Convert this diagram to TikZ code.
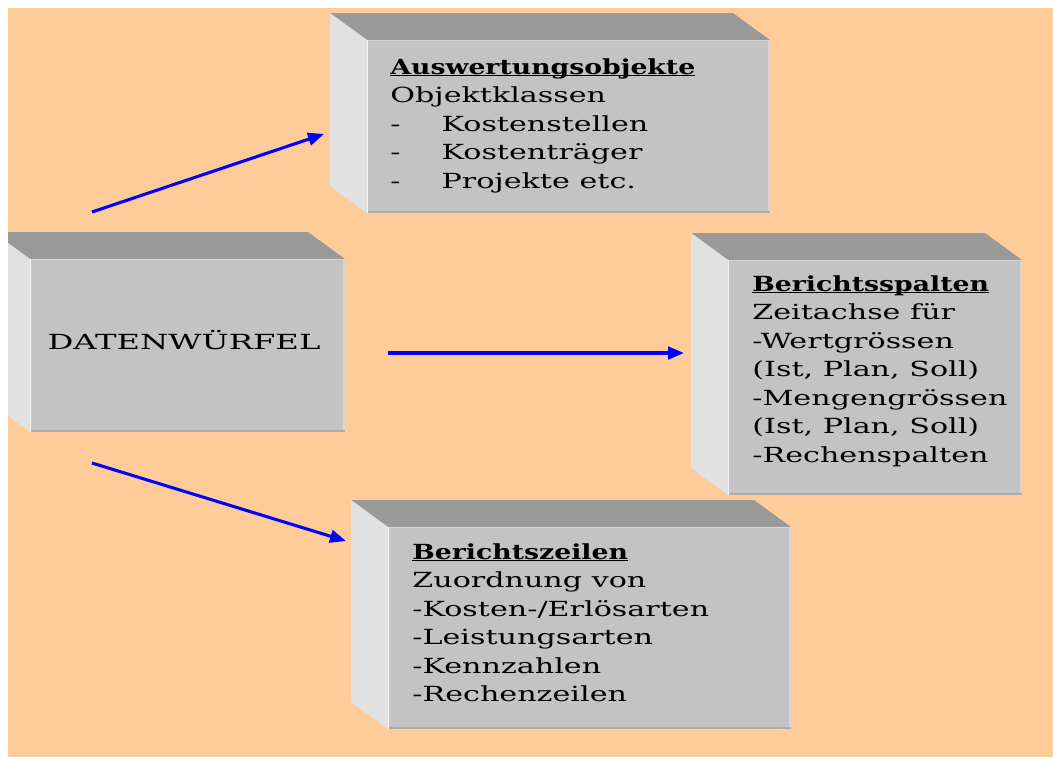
\documentclass[tikz,border=0pt]{standalone}
\usepackage{fontspec}
\setmainfont{DejaVu Serif}
\usetikzlibrary{arrows.meta}
\definecolor{pfirsich}{RGB}{255,204,153}
\definecolor{grauoben}{RGB}{153,153,153}
\definecolor{grauseite}{RGB}{225,225,225}
\definecolor{grauvorne}{RGB}{195,195,195}
\definecolor{kantehell}{RGB}{214,214,214}
\definecolor{kantedunkel}{RGB}{172,172,172}

\tikzset{
  oben/.style={fill=grauoben},
  seite/.style={fill=grauseite},
  vorne/.style={fill=grauvorne, inner sep=0pt, outer sep=0pt},
  beschriftung/.style={anchor=north west, inner sep=0pt, align=left, xscale=1.45,
    font=\fontsize{15.6}{21.4}\selectfont},
  pfeil/.style={-{Triangle[length=12pt,width=9.5pt]}, line width=2.3pt, blue},
}

\newsavebox\titelbox
\newcommand{\titel}[1]{\sbox\titelbox{\scalebox{0.885}[1]{\bfseries #1}}\rlap{\usebox\titelbox}\rule[-1.8pt]{\wd\titelbox}{1.1pt}}

% Quader: #1 Name, (#2,#3) vorne oben links, (#4,#5) vorne unten rechts
\newcommand{\wuerfel}[5]{%
  \fill[oben] (#2-37,#3-27) -- (#4-37,#3-27) -- (#4,#3) -- (#2,#3) -- cycle;
  \fill[seite] (#2-37,#3-27) -- (#2,#3) -- (#2,#5) -- (#2-37,#5-27) -- cycle;
  \node[vorne, minimum width={(#4-#2)*0.75pt}, minimum height={(#5-#3)*0.75pt}]
    (#1) at ({(#2+#4)/2},{(#3+#5)/2}) {};
  \draw[kantehell, line width=2pt] (#4-1,#3) -- (#4-1,#5);
  \draw[kantehell, line width=1.2pt] (#2,#3+0.5) -- (#4,#3+0.5);
  \draw[kantedunkel, line width=1.5pt] (#2,#5-0.8) -- (#4,#5-0.8);
  \draw[white!70!grauseite, line width=1pt] (#2+0.5,#3) -- (#2+0.5,#5);
}

\begin{document}
\begin{tikzpicture}[x=0.75pt,y=-0.75pt]
  \useasboundingbox (0,0) rectangle (1053,758);
  % Hintergrund
  \fill[pfirsich] (8,8) rectangle (1053,757);

  \begin{scope}
    \clip (8,8) rectangle (1053,757);
    % Datenwuerfel (links)
    \wuerfel{daten}{30}{259}{345}{432}
    % Auswertungsobjekte (oben)
    \wuerfel{ausw}{367}{40}{770}{213}
    % Berichtsspalten (rechts)
    \wuerfel{spalten}{728}{260}{1022}{495}
    % Berichtszeilen (unten)
    \wuerfel{zeilen}{388}{527}{791}{729}
  \end{scope}

  % Texte
  \node[beschriftung, anchor=base, xscale=1.07] (datentext) at (184,349) {DATENWÜRFEL};

  \node[beschriftung] (auswtext) at (390,58) {\titel{Auswertungsobjekte}\\
    Objektklassen\\
    \makebox[26.5pt][l]{-}Kostenstellen\\
    \makebox[26.5pt][l]{-}Kostenträger\\
    \makebox[26.5pt][l]{-}Projekte etc.};

  \node[beschriftung] (spaltentext) at (752,275) {\titel{Berichtsspalten}\\
    Zeitachse für\\
    -Wertgrössen\\
    (Ist, Plan, Soll)\\
    -Mengengrössen\\
    (Ist, Plan, Soll)\\
    -Rechenspalten};

  \node[beschriftung] (zeilentext) at (412,543) {\titel{Berichtszeilen}\\
    Zuordnung von\\
    -Kosten-/Erlösarten\\
    -Leistungsarten\\
    -Kennzahlen\\
    -Rechenzeilen};

  % Pfeile
  \coordinate (start1) at (92,212);
  \coordinate (ziel1) at (324,134);
  \coordinate (start2) at (388,353);
  \coordinate (ziel2) at (684,353);
  \coordinate (start3) at (92,463);
  \coordinate (ziel3) at (346,541);
  \draw[pfeil] (start1) -- (ziel1);
  \draw[pfeil] (start2) -- (ziel2);
  \draw[pfeil] (start3) -- (ziel3);
\end{tikzpicture}
\end{document}
